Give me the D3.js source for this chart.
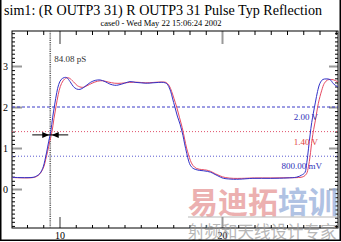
<!DOCTYPE html>
<html>
<head>
<meta charset="utf-8">
<script src="https://cdn.jsdelivr.net/npm/d3@7"></script>
<style>
  body { margin: 0; background: #fff; }
  svg { display: block; font-family: "Liberation Serif", "Times New Roman", serif; }
</style>
</head>
<body>
<div id="vis"></div>
<script>
// waveform samples: [time (ns), volts]
const blueWave = [
  [7.08,0.285],[8.37,0.285],[8.60,0.32],[8.80,0.38],[9.00,0.54],[9.10,0.70],[9.21,0.90],
  [9.33,1.15],[9.46,1.40],[9.58,1.75],[9.70,2.05],[9.83,2.35],[9.95,2.55],[10.10,2.67],
  [10.30,2.72],[10.45,2.715],[10.65,2.62],[10.85,2.50],[11.05,2.44],[11.26,2.43],[11.50,2.48],
  [11.90,2.60],[12.20,2.65],[12.50,2.66],[12.80,2.62],[13.10,2.56],[13.40,2.53],[13.60,2.535],
  [14.00,2.58],[14.34,2.62],[14.70,2.60],[15.00,2.59],[15.40,2.58],[15.75,2.59],[16.10,2.60],
  [16.40,2.60],[16.60,2.57],[16.72,2.50],[16.85,2.37],[16.95,2.22],[17.10,2.00],[17.25,1.78],
  [17.42,1.58],[17.60,1.30],[17.70,1.10],[17.83,0.87],[17.95,0.68],[18.05,0.58],[18.20,0.51],
  [18.35,0.48],[18.60,0.455],[18.85,0.445],[19.10,0.43],[19.30,0.41],[19.50,0.37],[19.70,0.33],
  [19.90,0.29],[20.10,0.26],[20.40,0.245],[20.70,0.237],[21.10,0.24],[21.90,0.26],[23.00,0.26],
  [24.00,0.27],[24.60,0.29],[24.90,0.34],[25.10,0.40],[25.22,0.65],[25.32,0.98],[25.42,1.32],
  [25.52,1.62],[25.62,1.85],[25.75,2.12],[25.88,2.38],[26.03,2.58],[26.20,2.67],[26.40,2.685],
  [26.65,2.67],[26.85,2.57],[27.10,2.50],[27.26,2.49]
]
const redWave = [
  [7.08,0.28],[8.40,0.28],[8.65,0.32],[8.85,0.40],[9.05,0.56],[9.15,0.72],[9.27,0.92],
  [9.40,1.16],[9.54,1.40],[9.66,1.72],[9.79,2.02],[9.92,2.30],[10.05,2.50],[10.22,2.64],
  [10.42,2.71],[10.60,2.705],[10.85,2.62],[11.10,2.52],[11.40,2.48],[11.70,2.52],[12.00,2.58],
  [12.35,2.63],[12.65,2.64],[13.00,2.61],[13.40,2.58],[13.80,2.58],[14.30,2.60],[14.80,2.605],
  [15.30,2.59],[15.80,2.60],[16.30,2.61],[16.55,2.60],[16.75,2.52],[16.90,2.38],[17.05,2.20],
  [17.21,2.00],[17.38,1.75],[17.55,1.50],[17.70,1.22],[17.82,1.00],[17.93,0.85],[18.05,0.70],
  [18.20,0.58],[18.44,0.50],[18.75,0.475],[19.06,0.46],[19.30,0.43],[19.60,0.37],[19.88,0.32],
  [20.20,0.28],[20.70,0.26],[21.20,0.26],[22.00,0.27],[23.00,0.27],[24.00,0.275],[24.70,0.28],
  [25.00,0.30],[25.20,0.37],[25.32,0.55],[25.42,0.80],[25.54,1.20],[25.64,1.45],[25.75,1.68],
  [25.93,2.09],[26.14,2.41],[26.30,2.58],[26.50,2.66],[26.85,2.665],[27.10,2.62],[27.26,2.60]
]

const refLevels = [2.0, 1.4, 0.8]
const refLabels = ["2.00 V", "1.40 V", "800.00 mV"]
const yMajorTicks = [0, 1, 2, 3]
const xMajorTicks = [10, 20]
const markerTime = 9.43
const markerLevel = 1.32
const markerLabel = "84.08 pS"
const title = "sim1: (R OUTP3 31) R OUTP3 31 Pulse Typ Reflection"
const subtitle = "case0 - Wed May 22 15:06:24 2002"

const width = 341
const height = 242
const pLeft = 12, pRight = 338, pTop = 31, pBottom = 228

const svg = d3.select("#vis")
  .append("svg")
  .attr("width", width)
  .attr("height", height)

const x = d3.scaleLinear().domain([7.077, 27.138]).range([pLeft, pRight])
const y = d3.scaleLinear().domain([-0.951, 3.854]).range([pBottom, pTop])

// titles
svg.append("text")
  .attr("x", 4).attr("y", 15)
  .attr("textLength", 318).attr("lengthAdjust", "spacingAndGlyphs")
  .style("font-size", "14.5px")
  .text(title)
svg.append("text")
  .attr("x", 161).attr("y", 26)
  .attr("text-anchor", "middle")
  .style("font-size", "8.5px")
  .text(subtitle)

// minor ticks
const yMinor = d3.range(-9, 39).map(d => d / 10)
const xMinor = d3.range(8, 28)
function minor(g) { g.select(".domain").remove(); g.selectAll("line").attr("stroke", "#000") }
svg.append("g").attr("transform", `translate(${pLeft},0)`)
  .call(d3.axisLeft(y).tickValues(yMinor).tickSize(-3).tickFormat("")).call(minor)
svg.append("g").attr("transform", `translate(${pRight},0)`)
  .call(d3.axisRight(y).tickValues(yMinor).tickSize(-3).tickFormat("")).call(minor)
svg.append("g").attr("transform", `translate(0,${pBottom})`)
  .call(d3.axisBottom(x).tickValues(xMinor).tickSize(-3).tickFormat("")).call(minor)
svg.append("g").attr("transform", `translate(0,${pTop})`)
  .call(d3.axisTop(x).tickValues(xMinor).tickSize(-4).tickFormat("")).call(minor)

// major ticks + labels
function major(g) {
  g.select(".domain").remove()
  g.selectAll("line").attr("stroke", "#999").attr("stroke-width", 2)
  g.selectAll("text").attr("fill", "#000").style("font-size", "10px").style("font-family", "Liberation Serif, serif")
}
svg.append("g").attr("transform", `translate(${pLeft},0)`)
  .call(d3.axisLeft(y).tickValues(yMajorTicks).tickSize(-10).tickPadding(4).tickFormat(d3.format("d"))).call(major)
svg.append("g").attr("transform", `translate(${pRight},0)`)
  .call(d3.axisRight(y).tickValues(yMajorTicks).tickSize(-9).tickFormat("")).call(major)
svg.append("g").attr("transform", `translate(0,${pBottom})`)
  .call(d3.axisBottom(x).tickValues(xMajorTicks).tickSize(-11).tickPadding(4).tickFormat(d3.format("d"))).call(major)
svg.append("g").attr("transform", `translate(0,${pTop})`)
  .call(d3.axisTop(x).tickValues(xMajorTicks).tickSize(-13).tickFormat("")).call(major)

// plot frame
svg.append("rect")
  .attr("x", pLeft).attr("y", pTop)
  .attr("width", pRight - pLeft).attr("height", pBottom - pTop)
  .attr("fill", "none").attr("stroke", "#000").attr("stroke-width", 1)

// reference levels
const refColors = ["#3a3ac8", "#e0506a", "#5a5ad0"]
const refDash = ["3,2", "1,2", "1,2"]
svg.selectAll(".ref")
  .data(refLevels)
  .enter()
  .append("line")
    .attr("x1", pLeft).attr("x2", pRight)
    .attr("y1", d => y(d)).attr("y2", d => y(d))
    .attr("stroke", (d, i) => refColors[i])
    .style("stroke-dasharray", (d, i) => refDash[i])

// marker line
svg.append("line")
  .attr("x1", x(markerTime)).attr("x2", x(markerTime))
  .attr("y1", pTop).attr("y2", pBottom)
  .attr("stroke", "#666").attr("stroke-width", 1.6)
  .style("stroke-dasharray", "1.2,1")

// waveforms
svg.append("clipPath").attr("id", "clip")
  .append("rect").attr("x", pLeft).attr("y", pTop).attr("width", pRight - pLeft).attr("height", pBottom - pTop)
const line = d3.line().x(d => x(d[0])).y(d => y(d[1])).curve(d3.curveCatmullRom)
svg.append("path").datum(redWave)
  .attr("d", line).attr("fill", "none").attr("stroke", "#e64a62").attr("stroke-width", 1)
  .attr("clip-path", "url(#clip)")
svg.append("path").datum(blueWave)
  .attr("d", line).attr("fill", "none").attr("stroke", "#3232c8").attr("stroke-width", 1)
  .attr("clip-path", "url(#clip)")

// reference labels
svg.selectAll(".reflabel")
  .data(refLevels)
  .enter()
  .append("text")
    .attr("x", (d, i) => i == 2 ? 322 : 318)
    .attr("y", d => y(d) + 13)
    .attr("text-anchor", "end")
    .attr("fill", (d, i) => i == 1 ? "#e03c3c" : "#3030b8")
    .style("font-size", "9px")
    .text((d, i) => refLabels[i])

// marker label + arrows
svg.append("text")
  .attr("x", x(markerTime) + 4).attr("y", 62)
  .attr("fill", "#333")
  .style("font-size", "9px")
  .text(markerLabel)
const ay = y(markerLevel), mx = x(markerTime)
svg.append("line")
  .attr("x1", mx - 18).attr("x2", mx + 18)
  .attr("y1", ay).attr("y2", ay)
  .attr("stroke", "#000")
svg.append("path")
  .attr("d", `M${mx - 1},${ay} L${mx - 8},${ay - 3} L${mx - 8},${ay + 3} Z M${mx + 1.5},${ay} L${mx + 8.5},${ay - 3} L${mx + 8.5},${ay + 3} Z`)
  .attr("fill", "#000")

// watermark
const wm = svg.append("g").attr("opacity", 0.7)
wm.append("text")
  .attr("x", 188).attr("y", 213)
  .style("font-family", "Noto Sans CJK SC").style("font-weight", "bold").style("font-size", "30px")
  .selectAll("tspan")
  .data(["易迪拓", "培训"])
  .enter()
  .append("tspan")
    .attr("fill", (d, i) => i == 0 ? "#e48f8f" : "#8fa9d8")
    .text(d => d)
wm.append("line")
  .attr("x1", 188).attr("x2", 341).attr("y1", 217).attr("y2", 217)
  .attr("stroke", "#999")
wm.append("text")
  .attr("x", 188).attr("y", 238)
  .attr("fill", "#999")
  .style("font-family", "Noto Sans CJK SC").style("font-size", "16.5px")
  .text("射频和天线设计专家")

// outer border
svg.append("path")
  .attr("d", `M0.75,0 V240.25 H340.25 V0`)
  .attr("fill", "none").attr("stroke", "#000").attr("stroke-width", 1.5)
</script>
</body>
</html>
